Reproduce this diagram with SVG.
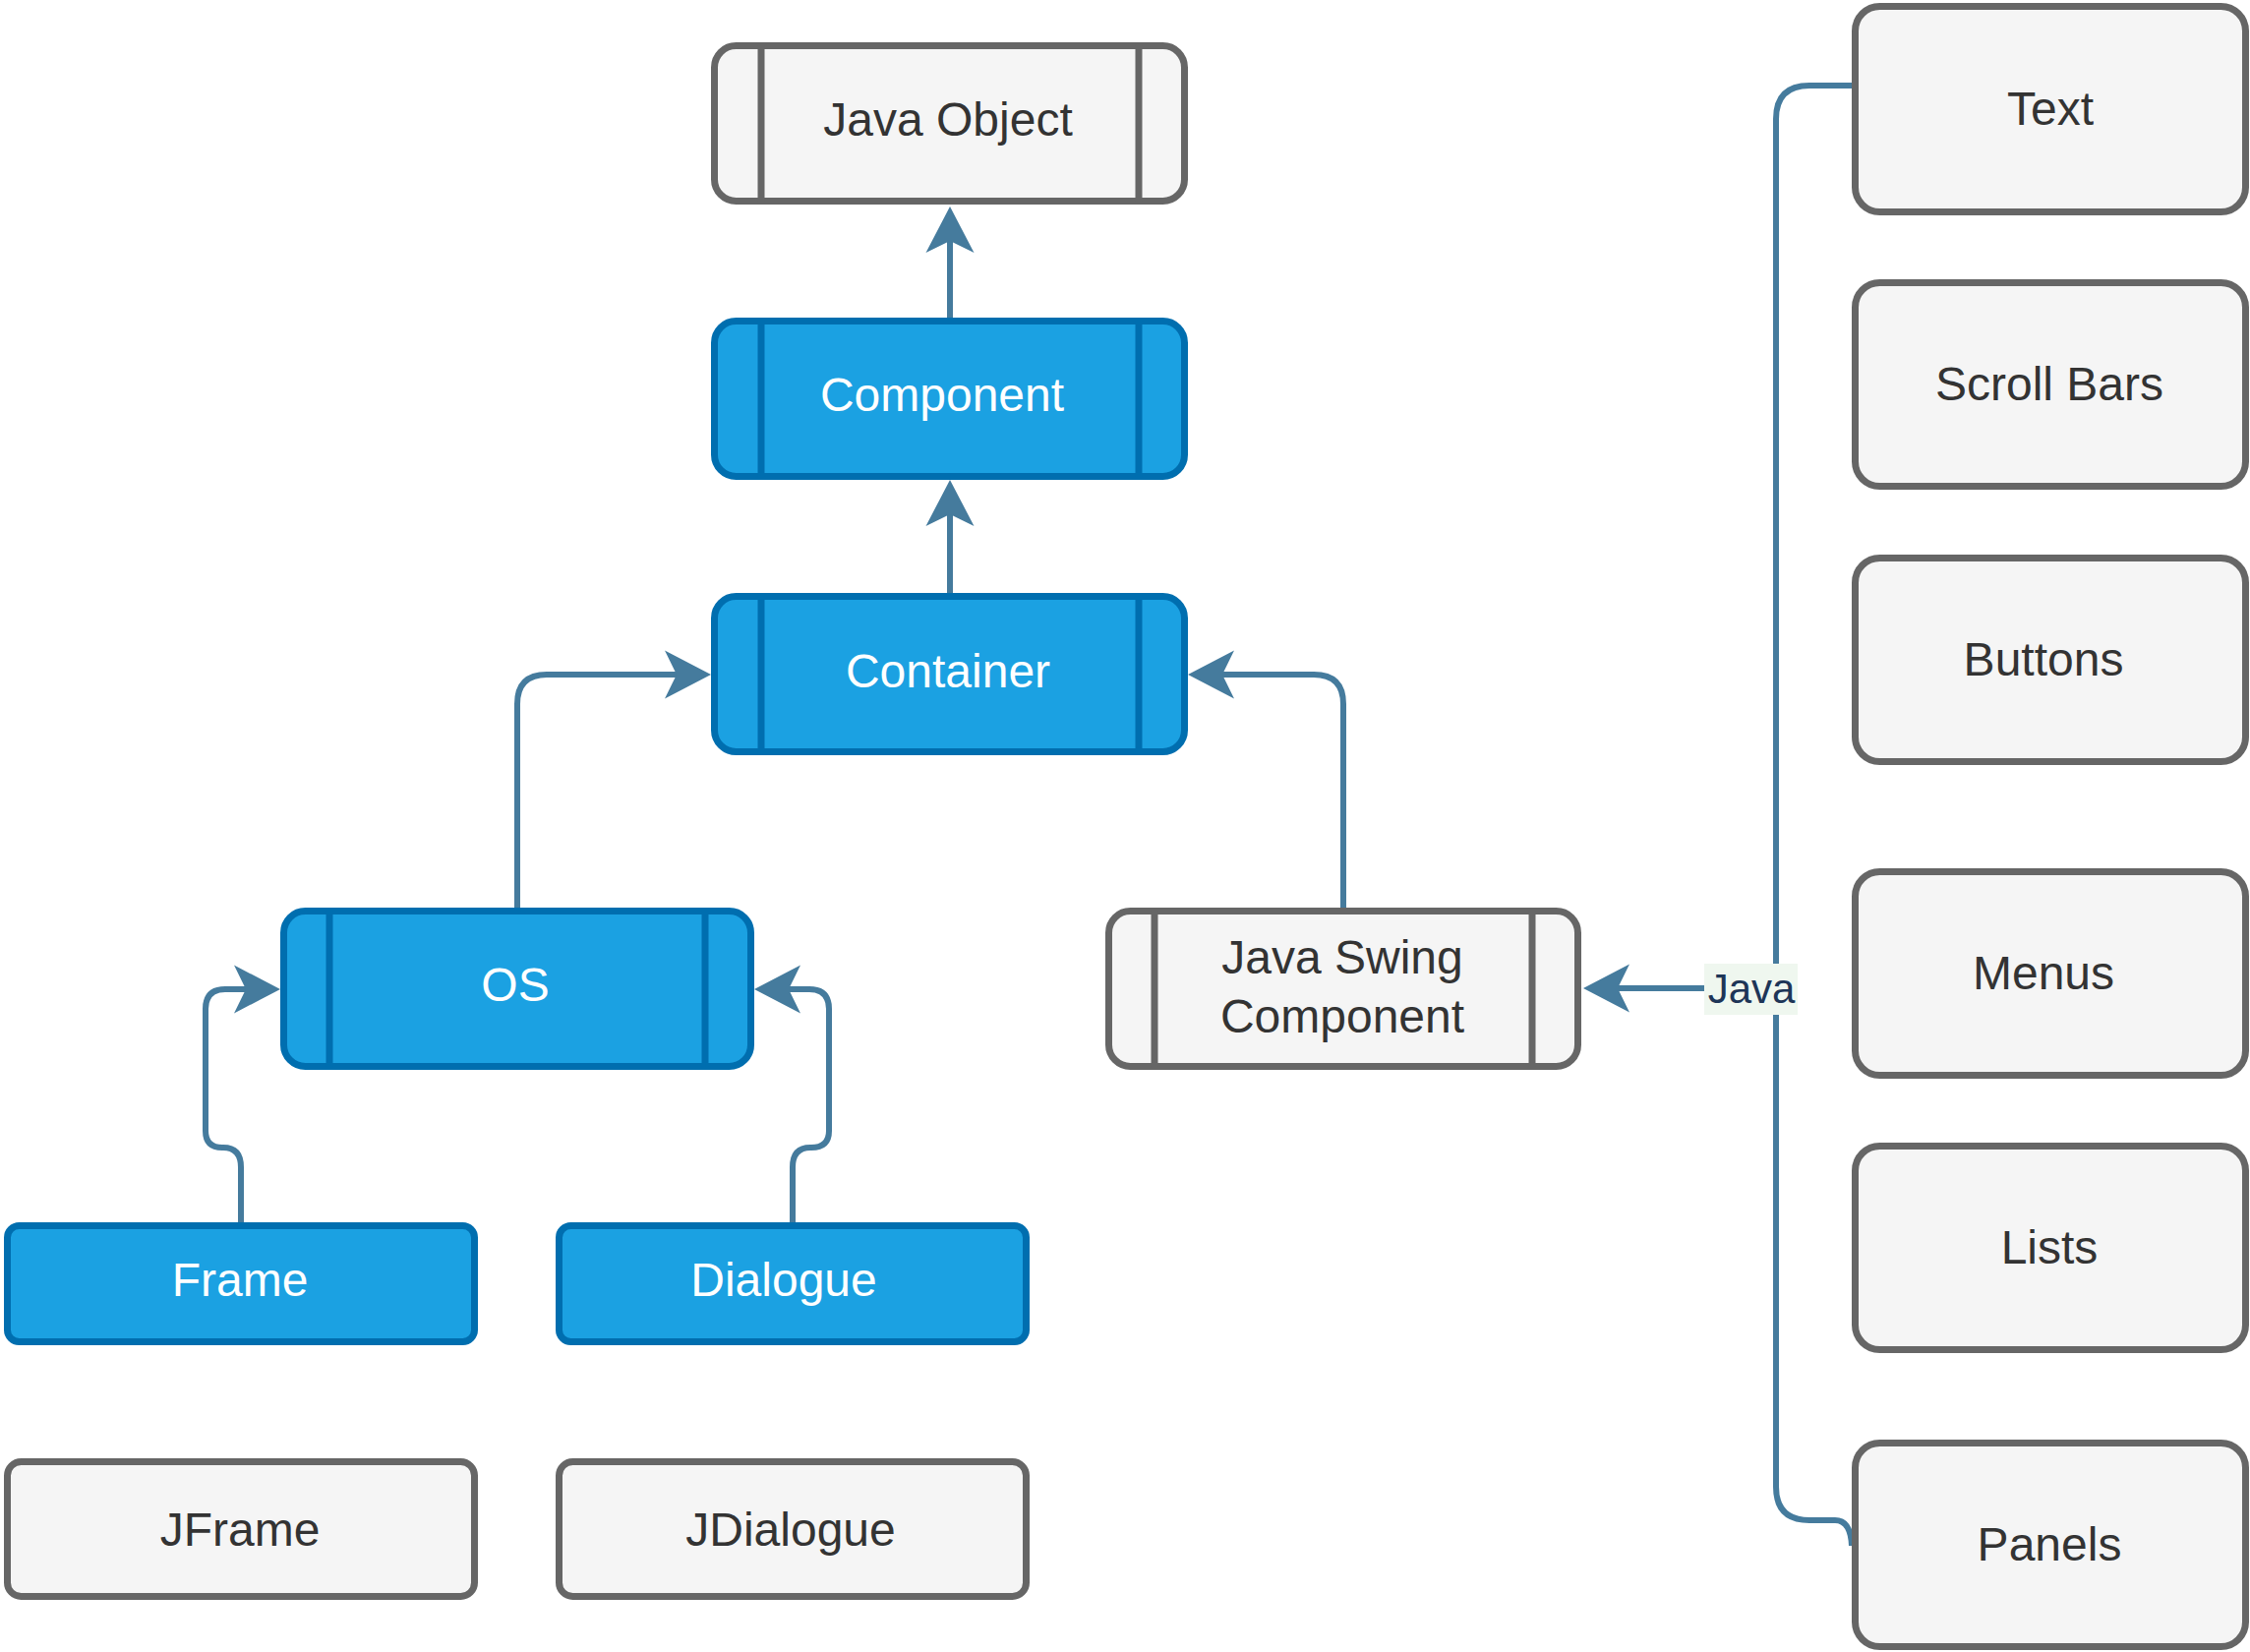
<svg xmlns="http://www.w3.org/2000/svg" width="2288" height="1680" viewBox="0 0 2288 1680">
<style>
.grey{fill:#f5f5f5;stroke:#666666;stroke-width:7}
.blue{fill:#1ba1e2;stroke:#006eaf;stroke-width:7}
.gl{stroke:#666666;stroke-width:7}
.bl{stroke:#006eaf;stroke-width:7}
.t{font-family:"Liberation Sans",Arial,sans-serif;font-size:48px;text-anchor:middle}
.dk{fill:#333333}
.wh{fill:#ffffff}
.edge{fill:none;stroke:#457b9d;stroke-width:6}
</style>
<defs>
<marker id="arr" markerUnits="userSpaceOnUse" markerWidth="48" markerHeight="50" refX="12" refY="25" orient="auto" overflow="visible">
<path d="M0,0.5 L47,25 L0,49.5 L12,25 Z" fill="#457b9d"/>
</marker>
</defs>
<rect width="2288" height="1680" fill="#ffffff"/>
<g id="connectors">
<path class="edge" d="M966,323 V245" marker-end="url(#arr)"/>
<path class="edge" d="M966,603 V523" marker-end="url(#arr)"/>
<path class="edge" d="M526,923 V716 Q526,686 556,686 H688" marker-end="url(#arr)"/>
<path class="edge" d="M1366,923 V716 Q1366,686 1336,686 H1243" marker-end="url(#arr)"/>
<path class="edge" d="M245,1243 V1187 Q245,1167 227,1167 H226 Q209,1167 209,1150 V1026 Q209,1006 229,1006 H250" marker-end="url(#arr)"/>
<path class="edge" d="M806,1243 V1187 Q806,1167 824,1167 H825 Q843,1167 843,1150 V1026 Q843,1006 823,1006 H802" marker-end="url(#arr)"/>
<path class="edge" d="M1883,87 H1840 Q1806,87 1806,121 V1512 Q1806,1546 1840,1546 H1866 Q1882,1546 1883,1572"/>
<path class="edge" d="M1806,1005 H1645" marker-end="url(#arr)"/>
<rect x="1733" y="980" width="95" height="52" fill="#eff7ef"/>
<text x="1781" y="1020" font-family="'Liberation Sans',Arial,sans-serif" font-size="42" text-anchor="middle" fill="#1d3557">Java</text>
</g>
<g id="java-object">
<rect class="grey" x="726.5" y="46.5" width="478" height="158" rx="22"/>
<line class="gl" x1="774" y1="46.5" x2="774" y2="204.5"/>
<line class="gl" x1="1158" y1="46.5" x2="1158" y2="204.5"/>
<text class="t dk" x="964" y="138">Java Object</text>
</g>
<g id="component">
<rect class="blue" x="726.5" y="326.5" width="478" height="158" rx="22"/>
<line class="bl" x1="774" y1="326.5" x2="774" y2="484.5"/>
<line class="bl" x1="1158" y1="326.5" x2="1158" y2="484.5"/>
<text class="t wh" x="958" y="418">Component</text>
</g>
<g id="container">
<rect class="blue" x="726.5" y="606.5" width="478" height="158" rx="22"/>
<line class="bl" x1="774" y1="606.5" x2="774" y2="764.5"/>
<line class="bl" x1="1158" y1="606.5" x2="1158" y2="764.5"/>
<text class="t wh" x="964" y="699">Container</text>
</g>
<g id="os">
<rect class="blue" x="288.5" y="926.5" width="475" height="158" rx="22"/>
<line class="bl" x1="335" y1="926.5" x2="335" y2="1084.5"/>
<line class="bl" x1="717" y1="926.5" x2="717" y2="1084.5"/>
<text class="t wh" x="524" y="1018">OS</text>
</g>
<g id="java-swing-component">
<rect class="grey" x="1127.5" y="926.5" width="477" height="158" rx="22"/>
<line class="gl" x1="1174" y1="926.5" x2="1174" y2="1084.5"/>
<line class="gl" x1="1558" y1="926.5" x2="1558" y2="1084.5"/>
<text class="t dk" x="1365" y="990">Java Swing</text>
<text class="t dk" x="1365" y="1050">Component</text>
</g>
<g id="frame">
<rect class="blue" x="7.5" y="1246.5" width="475" height="118" rx="12"/>
<text class="t wh" x="244" y="1318">Frame</text>
</g>
<g id="dialogue">
<rect class="blue" x="568.5" y="1246.5" width="475" height="118" rx="12"/>
<text class="t wh" x="797" y="1318">Dialogue</text>
</g>
<g id="jframe">
<rect class="grey" x="7.5" y="1486.5" width="475" height="137" rx="14"/>
<text class="t dk" x="244" y="1572">JFrame</text>
</g>
<g id="jdialogue">
<rect class="grey" x="568.5" y="1486.5" width="475" height="137" rx="14"/>
<text class="t dk" x="804" y="1572">JDialogue</text>
</g>
<g id="text">
<rect class="grey" x="1886.5" y="6.5" width="397" height="209" rx="25"/>
<text class="t dk" x="2085" y="127">Text</text>
</g>
<g id="scroll-bars">
<rect class="grey" x="1886.5" y="287.5" width="397" height="207" rx="25"/>
<text class="t dk" x="2084" y="407">Scroll Bars</text>
</g>
<g id="buttons">
<rect class="grey" x="1886.5" y="567.5" width="397" height="207" rx="25"/>
<text class="t dk" x="2078" y="687">Buttons</text>
</g>
<g id="menus">
<rect class="grey" x="1886.5" y="886.5" width="397" height="207" rx="25"/>
<text class="t dk" x="2078" y="1006">Menus</text>
</g>
<g id="lists">
<rect class="grey" x="1886.5" y="1165.5" width="397" height="207" rx="25"/>
<text class="t dk" x="2084" y="1285">Lists</text>
</g>
<g id="panels">
<rect class="grey" x="1886.5" y="1467.5" width="397" height="207" rx="25"/>
<text class="t dk" x="2084" y="1587">Panels</text>
</g>
</svg>
